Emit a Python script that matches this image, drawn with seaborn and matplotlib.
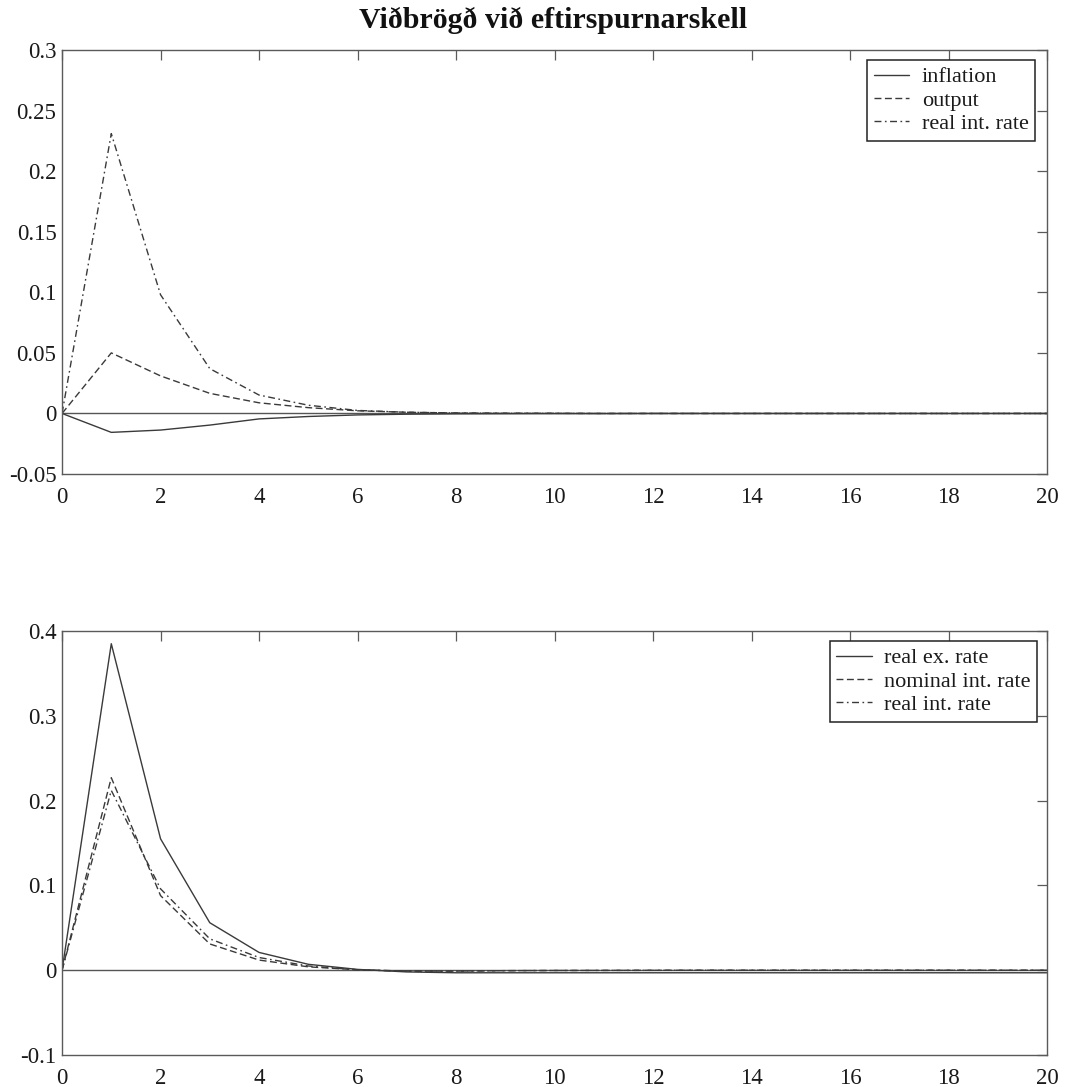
import numpy as np
import pandas as pd
import matplotlib
matplotlib.use("Agg")
import matplotlib.pyplot as plt
import seaborn as sns

# Impulse responses to a demand shock (quarters 0..20)
periods = list(range(21))

inflation = [0.0, -0.0156, -0.0137, -0.0096, -0.0045, -0.0025, -0.0012, -0.0006,
             -0.0003, -0.0002, -0.0001, -0.0001, 0.0, 0.0, 0.0, 0.0, 0.0, 0.0, 0.0, 0.0, 0.0]
output = [0.0, 0.050, 0.031, 0.0166, 0.0088, 0.0048, 0.0022, 0.0010,
          0.0004, 0.0002, 0.0001, 0.0, 0.0, 0.0, 0.0, 0.0, 0.0, 0.0, 0.0, 0.0, 0.0]
real_rate_top = [0.0, 0.231, 0.098, 0.037, 0.0152, 0.0068, 0.0025, 0.0010,
                 0.0004, 0.0002, 0.0001, 0.0, 0.0, 0.0, 0.0, 0.0, 0.0, 0.0, 0.0, 0.0, 0.0]

real_ex_rate = [0.0, 0.385, 0.155, 0.056, 0.021, 0.007, 0.001, -0.002,
                -0.003, -0.003, -0.003, -0.003, -0.003, -0.003, -0.003, -0.003,
                -0.003, -0.003, -0.003, -0.003, -0.003]
nominal_rate = [0.0, 0.227, 0.088, 0.031, 0.012, 0.004, 0.0005, -0.001,
                -0.001, -0.0005, -0.0003, -0.0002, -0.0001, 0.0, 0.0, 0.0, 0.0, 0.0, 0.0, 0.0, 0.0]
real_rate_bottom = [0.0, 0.212, 0.096, 0.037, 0.015, 0.005, 0.0005, -0.001,
                    -0.001, -0.0005, -0.0003, -0.0002, -0.0001, 0.0, 0.0, 0.0, 0.0, 0.0, 0.0, 0.0, 0.0]

top_labels = ["inflation", "output", "real int. rate"]
bottom_labels = ["real ex. rate", "nominal int. rate", "real int. rate"]

sns.set_theme(style="white")
plt.rcParams["font.family"] = ["Liberation Serif", "DejaVu Serif"]

line_color = "#3a3a3a"
spine_color = "#5a5a5a"
dash_styles = ["", (5, 2.5), (5, 2.5, 1.2, 2.5)]


def long_frame(series, labels):
    frames = []
    for vals, lab in zip(series, labels):
        frames.append(pd.DataFrame({"t": periods, "value": vals, "series": lab}))
    return pd.concat(frames, ignore_index=True)


def draw_panel(ax, series, labels, ylim, yticks, ytick_labels, legend_anchor):
    df = long_frame(series, labels)
    ax.axhline(0, color="#555555", lw=1.0, zorder=1)
    sns.lineplot(data=df, x="t", y="value", style="series", style_order=labels,
                 dashes=dict(zip(labels, dash_styles)), color=line_color,
                 lw=1.0, ax=ax, legend=True)
    ax.set_xlim(0, 20)
    ax.set_ylim(*ylim)
    ax.set_xticks(range(0, 21, 2))
    ax.set_xticklabels([str(v) for v in range(0, 21, 2)])
    ax.set_yticks(yticks)
    ax.set_yticklabels(ytick_labels)
    ax.set_xlabel("")
    ax.set_ylabel("")
    ax.tick_params(direction="in", length=7, width=0.9, color=spine_color,
                   top=True, right=True, labelsize=16.5, labelcolor="#1a1a1a")
    ax.tick_params(axis="x", pad=9)
    ax.tick_params(axis="y", pad=4)
    for s in ax.spines.values():
        s.set_color(spine_color)
        s.set_linewidth(1.0)
    handles, labs = ax.get_legend_handles_labels()
    leg = ax.legend(handles, labs, loc="upper right", bbox_to_anchor=legend_anchor,
                    fontsize=16, frameon=True, fancybox=False, framealpha=1.0,
                    edgecolor="#222222", handlelength=1.6, handletextpad=0.55,
                    borderpad=0.3, labelspacing=0.12, borderaxespad=0.0)
    leg.get_frame().set_linewidth(1.1)
    for t in leg.get_texts():
        t.set_color("#1a1a1a")


fig = plt.figure(figsize=(10.66, 10.87), dpi=100)
ax1 = fig.add_axes([0.0582, 0.5639, 0.9240, 0.3901])
ax2 = fig.add_axes([0.0582, 0.0294, 0.9240, 0.3901])

draw_panel(ax1, [inflation, output, real_rate_top], top_labels,
           (-0.05, 0.3),
           [-0.05, 0, 0.05, 0.1, 0.15, 0.2, 0.25, 0.3],
           ["-0.05", "0", "0.05", "0.1", "0.15", "0.2", "0.25", "0.3"],
           (0.988, 0.976))
draw_panel(ax2, [real_ex_rate, nominal_rate, real_rate_bottom], bottom_labels,
           (-0.1, 0.4),
           [-0.1, 0, 0.1, 0.2, 0.3, 0.4],
           ["-0.1", "0", "0.1", "0.2", "0.3", "0.4"],
           (0.990, 0.976))

fig.text(0.519, 0.9742, "Viðbrögð við eftirspurnarskell", ha="center", va="baseline",
         fontsize=21.5, fontweight="bold", color="#111111")

fig.savefig("out.png", dpi=100, facecolor="white")
